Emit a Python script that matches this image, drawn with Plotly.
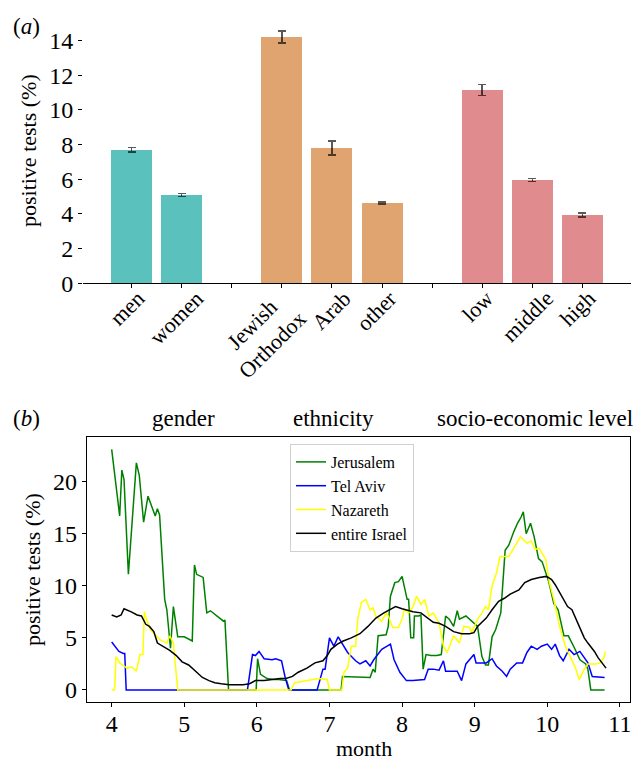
import plotly.graph_objects as go

# ---------------- panel (a) data ----------------
bar_labels = ["men", "women", "", "Jewish<br>Orthodox", "Arab", "other", "", "low", "middle", "high"]
bar_values = [7.69, 5.10, None, 14.21, 7.80, 4.63, None, 11.15, 5.96, 3.94]
bar_errors = [0.13, 0.09, None, 0.35, 0.40, 0.07, None, 0.32, 0.08, 0.12]
bar_groups = ["gender", "gender", None, "ethnicity", "ethnicity", "ethnicity", None, "ses", "ses", "ses"]
group_colors = {"gender": "#5bc1bc", "ethnicity": "#e0a470", "ses": "#e08b8e"}

# ---------------- panel (b) data ----------------
jer_x = [4.00, 4.11, 4.14, 4.17, 4.23, 4.34, 4.38, 4.44, 4.50, 4.60, 4.63, 4.66, 4.73, 4.76, 4.81, 4.85, 4.91,
         5.00, 5.11, 5.14, 5.17, 5.26, 5.31, 5.36, 5.54, 5.56, 5.61, 5.99, 6.01, 6.05, 6.14, 6.23, 6.30, 6.41,
         6.45, 7.16, 7.18, 7.56, 7.60, 7.63, 7.67, 7.78, 7.81, 7.84, 7.90, 7.95, 8.00, 8.03, 8.07, 8.09, 8.12,
         8.16, 8.17, 8.23, 8.26, 8.29, 8.33, 8.40, 8.48, 8.54, 8.60, 8.65, 8.71, 8.76, 8.79, 8.88, 8.93, 9.00,
         9.04, 9.10, 9.15, 9.19, 9.24, 9.29, 9.36, 9.42, 9.47, 9.54, 9.59, 9.64, 9.67, 9.71, 9.77, 9.82, 9.88,
         9.93, 10.02, 10.09, 10.15, 10.23, 10.29, 10.37, 10.45, 10.53, 10.56, 10.60, 10.79]
jer_y = [23.1, 16.7, 21.1, 20.2, 11.1, 21.8, 20.6, 16.1, 18.6, 16.7, 17.4, 16.8, 8.7, 7.7, 4.0, 8.0, 5.1,
         5.1, 4.7, 12.0, 11.1, 10.8, 7.4, 7.6, 6.6, 6.7, 0.0, 0.0, 3.0, 1.5, 1.1, 1.0, 1.0, 0.9,
         0.0, 0.0, 1.3, 1.2, 2.0, 1.7, 5.2, 5.3, 6.1, 9.0, 10.3, 10.4, 10.9, 10.0, 8.7, 8.7, 5.0,
         5.0, 7.1, 7.1, 7.2, 2.0, 3.4, 3.3, 3.3, 3.4, 7.1, 6.8, 6.1, 7.6, 6.8, 7.1, 6.8, 6.3,
         6.1, 3.2, 2.4, 2.4, 5.1, 5.8, 7.4, 13.4, 13.9, 15.2, 16.0, 16.6, 17.1, 15.0, 16.0, 14.7, 12.6,
         12.3, 10.4, 8.3, 7.7, 5.2, 5.2, 4.1, 2.9, 2.5, 2.0, 0.0, 0.0]

tlv_x = [4.00, 4.10, 4.16, 4.18, 4.20, 5.87, 5.94, 5.98, 6.03, 6.10, 6.21, 6.26, 6.34, 6.39, 6.44, 6.83, 6.91,
         6.94, 7.00, 7.06, 7.12, 7.20, 7.25, 7.36, 7.42, 7.50, 7.56, 7.61, 7.72, 7.84, 7.89, 7.97, 8.06, 8.15,
         8.31, 8.36, 8.43, 8.51, 8.57, 8.60, 8.76, 8.82, 8.88, 8.99, 9.02, 9.16, 9.24, 9.30, 9.38, 9.44, 9.49,
         9.58, 9.66, 9.72, 9.78, 9.86, 9.92, 10.00, 10.06, 10.11, 10.17, 10.22, 10.30, 10.37, 10.45, 10.56,
         10.62, 10.79]
tlv_y = [4.6, 3.7, 3.5, 3.5, 0.0, 0.0, 3.4, 3.3, 3.7, 3.0, 2.9, 3.0, 2.8, 1.2, 0.0, 0.0, 2.0,
         2.0, 5.0, 4.2, 5.1, 4.2, 3.6, 2.8, 2.5, 2.8, 2.3, 2.9, 3.9, 4.4, 2.9, 1.7, 0.9, 0.9,
         1.0, 2.0, 2.0, 1.9, 2.8, 1.8, 1.8, 0.9, 2.5, 3.4, 2.6, 2.6, 3.0, 2.3, 1.8, 1.3, 2.0,
         2.6, 2.6, 3.6, 4.2, 3.9, 4.2, 4.4, 3.9, 4.4, 3.3, 2.8, 3.9, 3.4, 3.7, 2.6,
         1.3, 1.2]

naz_x = [4.00, 4.04, 4.06, 4.11, 4.21, 4.28, 4.34, 4.39, 4.43, 4.45, 4.47, 4.53, 4.67, 4.76, 4.80, 4.85, 4.91,
         6.47, 6.52, 6.74, 6.85, 6.97, 7.00, 7.17, 7.20, 7.25, 7.30, 7.36, 7.39, 7.44, 7.50, 7.56, 7.60, 7.64,
         7.72, 7.78, 7.81, 7.87, 7.95, 8.00, 8.03, 8.09, 8.15, 8.20, 8.26, 8.31, 8.37, 8.43, 8.51, 8.57, 8.62,
         8.71, 8.79, 8.85, 8.93, 8.96, 9.04, 9.10, 9.15, 9.19, 9.24, 9.30, 9.35, 9.47, 9.55, 9.63, 9.72, 9.78,
         9.83, 9.89, 9.98, 10.03, 10.09, 10.17, 10.25, 10.34, 10.39, 10.44, 10.51, 10.56, 10.67, 10.73, 10.78,
         10.80]
naz_y = [0.0, 0.0, 3.2, 2.6, 2.1, 2.2, 1.8, 3.4, 3.4, 7.5, 7.0, 5.8, 4.8, 4.5, 5.2, 4.5, 0.0,
         0.0, 0.7, 1.0, 1.1, 1.0, 0.0, 0.0, 1.7, 2.1, 4.2, 4.2, 6.8, 8.4, 8.7, 7.7, 7.9, 7.1,
         6.6, 7.4, 7.1, 6.0, 6.0, 6.8, 7.7, 7.4, 8.0, 9.0, 8.2, 8.7, 7.1, 7.4, 6.4, 4.2, 3.6,
         5.2, 4.5, 6.1, 6.0, 5.5, 6.8, 7.4, 8.0, 7.7, 10.0, 11.2, 12.8, 12.8, 13.8, 14.7, 14.1, 14.3,
         13.5, 13.6, 12.5, 10.3, 8.7, 6.1, 4.2, 2.9, 2.1, 1.0, 2.0, 2.5, 2.5, 2.6, 3.1,
         3.7]

isr_x = [4.00, 4.07, 4.13, 4.17, 4.27, 4.35, 4.41, 4.47, 4.52, 4.58, 4.63, 4.72, 4.80, 4.89, 4.97, 5.06, 5.17,
         5.25, 5.34, 5.42, 5.51, 5.62, 5.73, 5.81, 5.90, 5.98, 6.10, 6.21, 6.32, 6.40, 6.49, 6.57, 6.69, 6.80,
         6.91, 6.97, 7.02, 7.11, 7.19, 7.30, 7.42, 7.53, 7.64, 7.75, 7.84, 7.91, 8.00, 8.06, 8.15, 8.26, 8.34,
         8.43, 8.51, 8.60, 8.71, 8.82, 8.93, 8.99, 9.04, 9.16, 9.24, 9.33, 9.41, 9.49, 9.61, 9.69, 9.78, 9.89,
         9.99, 10.06, 10.11, 10.20, 10.28, 10.34, 10.42, 10.51, 10.56, 10.65, 10.70, 10.76, 10.81]
isr_y = [7.2, 7.0, 7.2, 7.8, 7.5, 7.2, 7.1, 6.3, 6.1, 5.6, 4.5, 4.1, 3.8, 3.3, 2.7, 2.4, 1.7,
         1.2, 0.9, 0.7, 0.6, 0.5, 0.5, 0.5, 0.6, 0.9, 0.9, 1.0, 1.1, 1.1, 1.3, 1.7, 2.1, 2.6,
         2.8, 3.3, 3.9, 4.4, 4.7, 5.0, 5.4, 6.1, 6.9, 7.4, 7.7, 8.0, 7.8, 7.7, 7.5, 7.4, 7.0,
         6.5, 6.4, 6.1, 5.6, 5.4, 5.4, 5.5, 6.1, 6.9, 7.7, 8.5, 8.8, 9.2, 9.6, 10.3, 10.6, 10.8,
         10.9, 10.6, 10.1, 9.0, 8.0, 7.7, 6.4, 5.0, 4.5, 3.7, 3.1, 2.6, 2.1]

month_ticks = [4, 5, 6, 7, 8, 9, 10, 11]
count_ticks = [0, 5, 10, 15, 20]
pct_ticks = [0, 2, 4, 6, 8, 10, 12, 14]
group_titles = ["gender", "ethnicity", "socio-economic level"]

FONT = "Liberation Serif"
W, H = 640, 760
TICK = 24

def px_x(v):
    return v / W

def px_y(v):
    return 1 - v / H

fig = go.Figure()

# bars
for i, (lab, val, err, grp) in enumerate(zip(bar_labels, bar_values, bar_errors, bar_groups)):
    if val is None:
        continue
    fig.add_trace(go.Bar(
        x=[i], y=[val], width=0.82, marker=dict(color=group_colors[grp], line=dict(width=0)),
        error_y=dict(type="data", array=[err], color="rgba(0,0,0,0.65)", thickness=1.5, width=4),
        showlegend=False, xaxis="x", yaxis="y", hoverinfo="skip"))

# lines
series = [("Jerusalem", jer_x, jer_y, "green"), ("Tel Aviv", tlv_x, tlv_y, "blue"),
          ("Nazareth", naz_x, naz_y, "yellow"), ("entire Israel", isr_x, isr_y, "black")]
for name, xs, ys, col in series:
    fig.add_trace(go.Scatter(x=xs, y=ys, mode="lines", name=name, line=dict(color=col, width=1.5),
                             xaxis="x2", yaxis="y2"))

annotations = []
# rotated category labels for panel (a)
for i, lab in enumerate(bar_labels):
    if not lab:
        continue
    shift = -20 if "<br>" in lab else (-1 if lab == "Arab" else -5)
    annotations.append(dict(text=lab, x=i, xref="x", y=px_y(283), yref="paper", xanchor="center",
                            yanchor="top", textangle=-45, showarrow=False, xshift=shift,
                            font=dict(family=FONT, size=22, color="black")))

annotations.append(dict(text="(<i>a</i>)", x=px_x(26), y=px_y(27), xref="paper", yref="paper",
                        xanchor="center", yanchor="middle",
                        showarrow=False, font=dict(family=FONT, size=23, color="black")))
annotations.append(dict(text="(<i>b</i>)", x=px_x(26), y=px_y(418), xref="paper", yref="paper",
                        xanchor="center", yanchor="middle",
                        showarrow=False, font=dict(family=FONT, size=23, color="black")))
for t, cx in zip(group_titles, [183, 333, 535]):
    annotations.append(dict(text=t, x=px_x(cx), y=px_y(418), xref="paper", yref="paper",
                            xanchor="center", yanchor="middle",
                            showarrow=False, font=dict(family=FONT, size=23, color="black")))
annotations.append(dict(text="month", x=px_x(364), y=px_y(748), xref="paper", yref="paper",
                        xanchor="center", yanchor="middle",
                        showarrow=False, font=dict(family=FONT, size=22, color="black")))

fig.update_layout(
    width=W, height=H, margin=dict(l=0, r=0, t=0, b=0, autoexpand=False),
    paper_bgcolor="white", plot_bgcolor="white",
    font=dict(family=FONT, size=22, color="black"),
    bargap=0,
    xaxis=dict(domain=[px_x(83), px_x(631)], anchor="y", range=[-0.97, 9.97], automargin=False,
               tickvals=list(range(10)), showticklabels=False, ticks="outside", ticklen=4,
               tickcolor="black", showline=True, linecolor="black", linewidth=1.2,
               showgrid=False, zeroline=False, fixedrange=True),
    yaxis=dict(domain=[px_y(283.3), px_y(18)], anchor="x", range=[0, 15.3], automargin=False,
               tickvals=pct_ticks, ticks="outside", ticklen=4, tickcolor="black",
               showline=False, showgrid=False, zeroline=False, ticklabelstandoff=0,
               title=dict(text="positive tests (%)", font=dict(size=22), standoff=6),
               tickfont=dict(size=TICK)),
    xaxis2=dict(domain=[px_x(87), px_x(630)], anchor="y2", range=[3.66, 11.14], automargin=False,
                tickvals=month_ticks, ticks="outside", ticklen=4, tickcolor="black",
                showline=True, mirror=True, linecolor="black", linewidth=1.2,
                showgrid=False, zeroline=False, ticklabelstandoff=-4,
                tickfont=dict(size=TICK)),
    yaxis2=dict(domain=[px_y(702), px_y(437.2)], anchor="x2", range=[-1.155, 24.26], automargin=False,
                tickvals=count_ticks, ticks="outside", ticklen=4, tickcolor="black",
                showline=True, mirror=True, linecolor="black", linewidth=1.2,
                showgrid=False, zeroline=False, ticklabelstandoff=0,
                title=dict(text="positive tests (%)", font=dict(size=22), standoff=6),
                tickfont=dict(size=TICK)),
    legend=dict(x=px_x(290), y=px_y(444), xanchor="left", yanchor="top",
                bgcolor="rgba(255,255,255,0.85)", bordercolor="#d0d0d0", borderwidth=1,
                font=dict(family=FONT, size=16), tracegroupgap=0, itemwidth=30),
    annotations=annotations,
)

fig.write_html("out.html", config={"displayModeBar": False},
               post_script="document.body.style.margin='0px';")
